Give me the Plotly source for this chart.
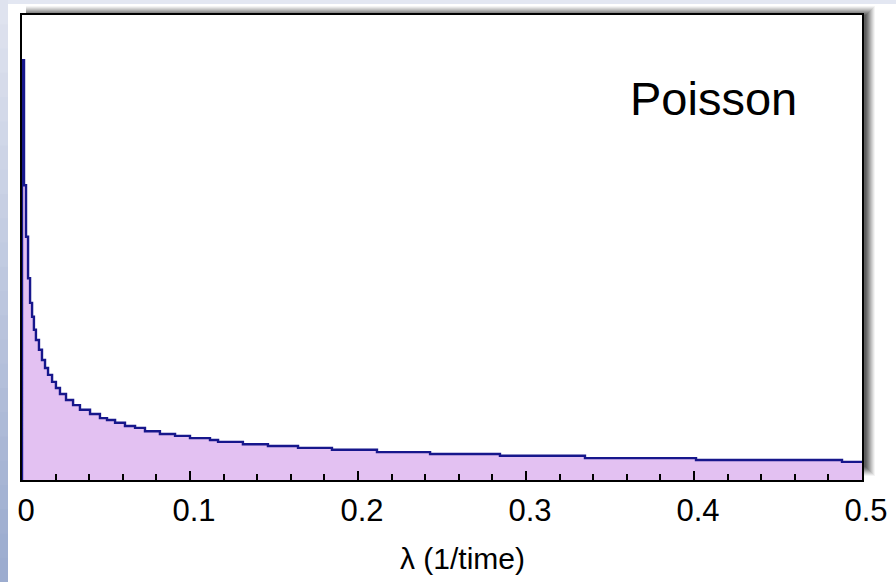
import plotly.graph_objects as go

# Posterior-style prior density for a Poisson rate, drawn as a step histogram
lam_edges = [0.0, 0.0012, 0.0024, 0.0036, 0.0048, 0.0060, 0.0071, 0.0083, 0.0101,
             0.0119, 0.0137, 0.0155, 0.0179, 0.0202, 0.0226, 0.0262, 0.0304, 0.0345,
             0.0405, 0.0464, 0.0506, 0.0554, 0.0613, 0.0673, 0.0732, 0.0821, 0.0911,
             0.1000, 0.1119, 0.1167, 0.1315, 0.1464, 0.1643, 0.1845, 0.2113, 0.2429,
             0.2845, 0.3351, 0.4012, 0.4881, 0.5]
density = [0.903, 0.634, 0.523, 0.434, 0.381, 0.351, 0.323, 0.301, 0.280, 0.258,
           0.241, 0.226, 0.211, 0.198, 0.185, 0.172, 0.161, 0.151, 0.142, 0.133,
           0.129, 0.123, 0.116, 0.112, 0.105, 0.099, 0.095, 0.090, 0.086, 0.082,
           0.077, 0.073, 0.069, 0.065, 0.060, 0.056, 0.052, 0.047, 0.043, 0.039]

tick_vals = [0, 0.1, 0.2, 0.3, 0.4, 0.5]
tick_text = ["0", "0.1", "0.2", "0.3", "0.4", "0.5"]

FONT = "Liberation Sans, Arial, Helvetica, sans-serif"
LINE = "#17178c"
FILL = "#e3c1f2"

W, H = 896, 582
L, R, T, B = 22, 34, 15, 102
PW, PH = W - L - R, H - T - B


def px_to_paper(x0, y0, x1, y1):
    """Convert a pixel box (page coords) to paper coords of the plot area."""
    return dict(x0=(x0 - L) / PW, x1=(x1 - L) / PW,
                y0=(H - B - y1) / PH, y1=(H - B - y0) / PH)


fig = go.Figure()

xs = [lam_edges[0]] + lam_edges
ys = [0.0] + density + [density[-1]]
fig.add_trace(go.Scatter(
    x=xs, y=ys, mode="lines", line=dict(color=LINE, width=2.4, shape="hv"),
    fill="tozeroy", fillcolor=FILL, hoverinfo="skip", showlegend=False,
))

shapes = []
# slide backdrop: light strip along the top, shaded strip down the left side
shapes.append(dict(type="rect", xref="paper", yref="paper", layer="below",
                   line=dict(width=0), fillcolor="#e3e7f2",
                   **px_to_paper(0, 0, W, 4)))
n = 24
for i in range(n):
    t = i / (n - 1)
    r = int(0xdf + (0x9c - 0xdf) * t)
    g = int(0xe3 + (0xac - 0xe3) * t)
    b = int(0xef + (0xcf - 0xef) * t)
    y0 = i * H / n
    shapes.append(dict(type="rect", xref="paper", yref="paper", layer="below",
                       line=dict(width=0), fillcolor=f"rgb({r},{g},{b})",
                       **px_to_paper(0, y0, 8, y0 + H / n + 1)))
# soft drop shadow above and to the right of the frame
for k, a in enumerate([0.06, 0.08, 0.10, 0.12, 0.15, 0.18, 0.21, 0.25, 0.30, 0.36]):
    d = 10 - k
    shapes.append(dict(type="rect", xref="paper", yref="paper", layer="below",
                       line=dict(width=0), fillcolor=f"rgba(70,70,70,{a})",
                       **px_to_paper(L + 4, T - d + 1, W - R + d + 3, H - B - 14 + d)))
shapes.append(dict(type="rect", xref="paper", yref="paper", layer="below",
                   line=dict(width=0), fillcolor="white",
                   **px_to_paper(L, T, W - R, H - B)))

fig.update_layout(
    width=W, height=H,
    margin=dict(l=L, r=R, t=T, b=B, pad=0, autoexpand=False),
    paper_bgcolor="white", plot_bgcolor="rgba(0,0,0,0)",
    font=dict(family=FONT, color="black"),
    shapes=shapes,
    annotations=[
        dict(text="Poisson", x=0.3607, y=0.82, xref="x", yref="y",
             xanchor="left", yanchor="middle", showarrow=False,
             font=dict(size=47, family=FONT, color="black")),
        dict(text="λ (1/time)", x=(462 - L) / PW, y=(H - B - 558) / PH,
             xref="paper", yref="paper", xanchor="center", yanchor="middle",
             showarrow=False, font=dict(size=30, family=FONT, color="black")),
    ],
)
fig.update_xaxes(
    range=[0, 0.5], showgrid=False, zeroline=False, automargin=False,
    showline=True, linecolor="black", linewidth=2, mirror=True,
    ticks="inside", ticklen=9, tickwidth=1.5, tickcolor="black",
    tickvals=tick_vals, ticktext=tick_text,
    tickfont=dict(size=31, family=FONT, color="black"),
    ticklabelstandoff=2, ticklabelshift=4,
    minor=dict(ticks="inside", ticklen=6, tickwidth=1.5, tickcolor="black", dtick=0.02),
)
fig.update_yaxes(
    range=[0, 1], showgrid=False, zeroline=False, showticklabels=False,
    automargin=False,
    showline=True, linecolor="black", linewidth=2, mirror=True, ticks="",
)

fig.write_html("out.html")
